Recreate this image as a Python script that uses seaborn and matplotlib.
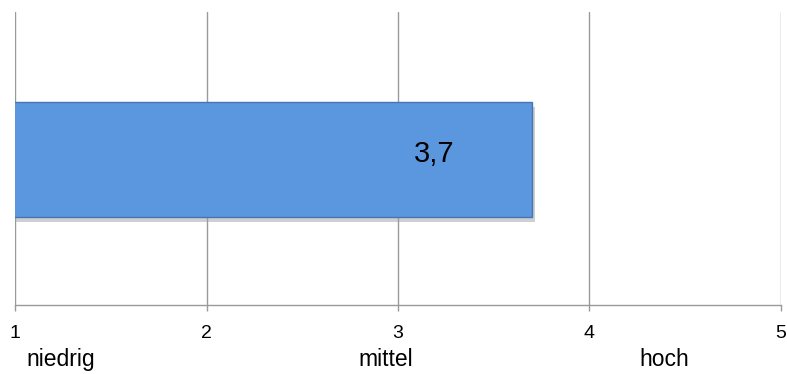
import matplotlib
matplotlib.use("Agg")
import matplotlib.pyplot as plt
import matplotlib.patheffects as pe
import matplotlib.transforms as mtransforms
import seaborn as sns
import pandas as pd

# Data
categories = ["Bewertung"]
values = [3.7]
value_labels = ["3,7"]
tick_values = [1, 2, 3, 4, 5]
tick_labels = ["1", "2", "3", "4", "5"]
scale_names = ["niedrig", "mittel", "hoch"]
scale_positions = [1.235, 2.935, 4.39]

sns.set_theme(style="white")
plt.rcParams["font.family"] = ["Liberation Sans", "DejaVu Sans"]

fig = plt.figure(figsize=(7.87, 3.74), dpi=100)
ax = fig.add_axes([15.3 / 787, 1 - 305 / 374, 765.4 / 787, 293 / 374])

df = pd.DataFrame({"kategorie": categories, "wert": values})
sns.barplot(data=df, x="wert", y="kategorie", orient="h", ax=ax,
            color="#5B97DE", width=0.8, saturation=1,
            edgecolor="#4676B2", linewidth=1.0)

# Soft drop shadow on the bar
for patch in ax.patches:
    patch.set_path_effects([
        pe.SimplePatchShadow(offset=(2, -3), shadow_rgbFace="#a0a0a0", alpha=0.5),
        pe.Normal(),
    ])

ax.set_xlim(tick_values[0], tick_values[-1])
half = 0.8 / (115 / 293) / 2
ax.set_ylim(half - 0.01, -half - 0.01)

ax.set_xticks(tick_values)
ax.set_xticklabels(tick_labels, fontsize=14, color="#000000")
ax.set_yticks([])
ax.set_ylabel("")
ax.set_xlabel("")

ax.grid(False)
for x in tick_values:
    ax.axvline(x, color="#9a9a9a", linewidth=1.0, zorder=0)

for side in ["top", "right", "left"]:
    ax.spines[side].set_visible(False)
ax.spines["bottom"].set_color("#9a9a9a")
ax.spines["bottom"].set_linewidth(1.0)
ax.tick_params(axis="x", which="major", bottom=True, length=4.5, width=1.0,
               color="#9a9a9a", pad=10, direction="out")

# Value label inside the bar
for v, lab in zip(values, value_labels):
    ax.text(v - 0.51, -0.04, lab, ha="center", va="center", fontsize=21, color="#000000")

# Scale descriptions below the tick labels
trans = mtransforms.blended_transform_factory(ax.transData, ax.transAxes)
for name, pos in zip(scale_names, scale_positions):
    ax.text(pos, -0.208, name, transform=trans, ha="center", va="baseline",
            fontsize=16.5, color="#000000", clip_on=False)

fig.savefig("out.png", dpi=100)
